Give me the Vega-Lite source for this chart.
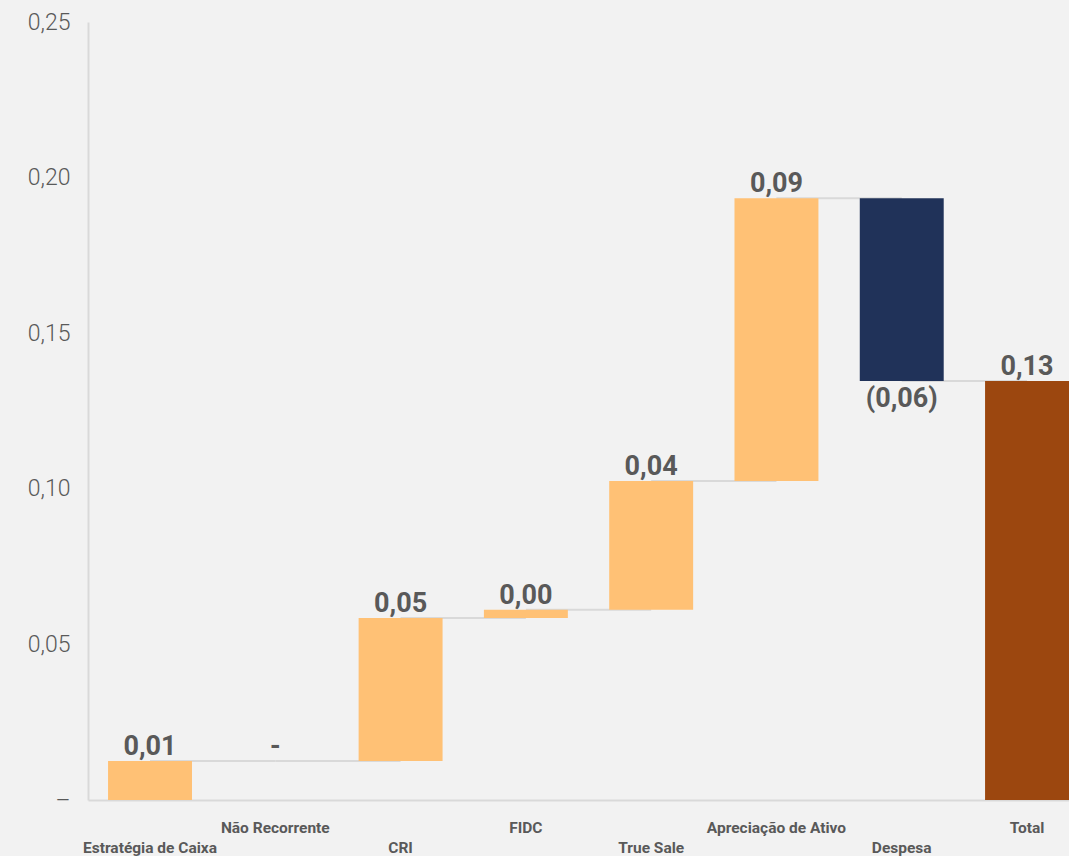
{
  "$schema": "https://vega.github.io/schema/vega-lite/v6.json",
  "width": 981,
  "height": 778,
  "autosize": {"type": "none"},
  "padding": {"left": 88, "top": 22, "right": 0, "bottom": 56},
  "background": "#F2F2F2",
  "config": {
    "view": {"stroke": null},
    "font": "Roboto"
  },
  "data": {
    "values": [
      {"category": "Estratégia de Caixa", "start": 0, "end": 0.0125, "label": "0,01", "kind": "up", "next": "Não Recorrente"},
      {"category": "Não Recorrente", "start": 0.0125, "end": 0.0125, "label": "-", "kind": "up", "next": "CRI"},
      {"category": "CRI", "start": 0.0125, "end": 0.0585, "label": "0,05", "kind": "up", "next": "FIDC"},
      {"category": "FIDC", "start": 0.0585, "end": 0.0611, "label": "0,00", "kind": "up", "next": "True Sale"},
      {"category": "True Sale", "start": 0.0611, "end": 0.1025, "label": "0,04", "kind": "up", "next": "Apreciação de Ativo"},
      {"category": "Apreciação de Ativo", "start": 0.1025, "end": 0.1934, "label": "0,09", "kind": "up", "next": "Despesa"},
      {"category": "Despesa", "start": 0.1934, "end": 0.1346, "label": "(0,06)", "kind": "down", "next": "Total"},
      {"category": "Total", "start": 0, "end": 0.1346, "label": "0,13", "kind": "total", "next": null}
    ]
  },
  "encoding": {
    "x": {
      "field": "category",
      "type": "nominal",
      "sort": null,
      "scale": {"paddingInner": 0.33, "paddingOuter": 0.08, "align": 1},
      "axis": {
        "title": null,
        "labelAngle": 0,
        "labelFont": "Roboto",
        "labelFontWeight": "bold",
        "labelFontSize": 15.5,
        "labelColor": "#595959",
        "ticks": false,
        "domainColor": "#D9D9D9",
        "domainWidth": 2,
        "labelPadding": {
          "condition": {"test": "indexof(['Estratégia de Caixa','CRI','True Sale','Despesa'], datum.value) >= 0", "value": 40},
          "value": 20
        }
      }
    },
    "y": {
      "field": "end",
      "type": "quantitative",
      "scale": {"domain": [0, 0.25], "nice": false, "zero": true},
      "axis": {
        "title": null,
        "values": [0, 0.05, 0.1, 0.15, 0.2, 0.25],
        "labelExpr": "datum.value == 0 ? '–' : replace(format(datum.value, '.2f'), '.', ',')",
        "labelFont": "Roboto",
        "labelFontSize": 23,
        "labelFontWeight": 300,
        "labelColor": "#595959",
        "labelPadding": 18,
        "ticks": false,
        "grid": false,
        "domainColor": "#D9D9D9",
        "domainWidth": 2
      }
    }
  },
  "layer": [
    {
      "transform": [{"filter": "datum.next != null"}],
      "mark": {"type": "rule", "color": "#D9D9D9", "strokeWidth": 2},
      "encoding": {
        "x2": {"field": "next"}
      }
    },
    {
      "mark": {"type": "bar"},
      "encoding": {
        "y2": {"field": "start"},
        "color": {
          "field": "kind",
          "type": "nominal",
          "scale": {"domain": ["up", "down", "total"], "range": ["#FFC175", "#203259", "#9C470F"]},
          "legend": null
        }
      }
    },
    {
      "transform": [{"filter": "datum.kind != 'down'"}],
      "mark": {"type": "text", "baseline": "alphabetic", "dy": -6, "fontSize": 27, "fontWeight": "bold", "color": "#595959", "font": "Roboto"},
      "encoding": {
        "text": {"field": "label"}
      }
    },
    {
      "transform": [{"filter": "datum.kind == 'down'"}],
      "mark": {"type": "text", "baseline": "top", "dy": 5, "fontSize": 27, "fontWeight": "bold", "color": "#595959", "font": "Roboto"},
      "encoding": {
        "text": {"field": "label"}
      }
    }
  ]
}
